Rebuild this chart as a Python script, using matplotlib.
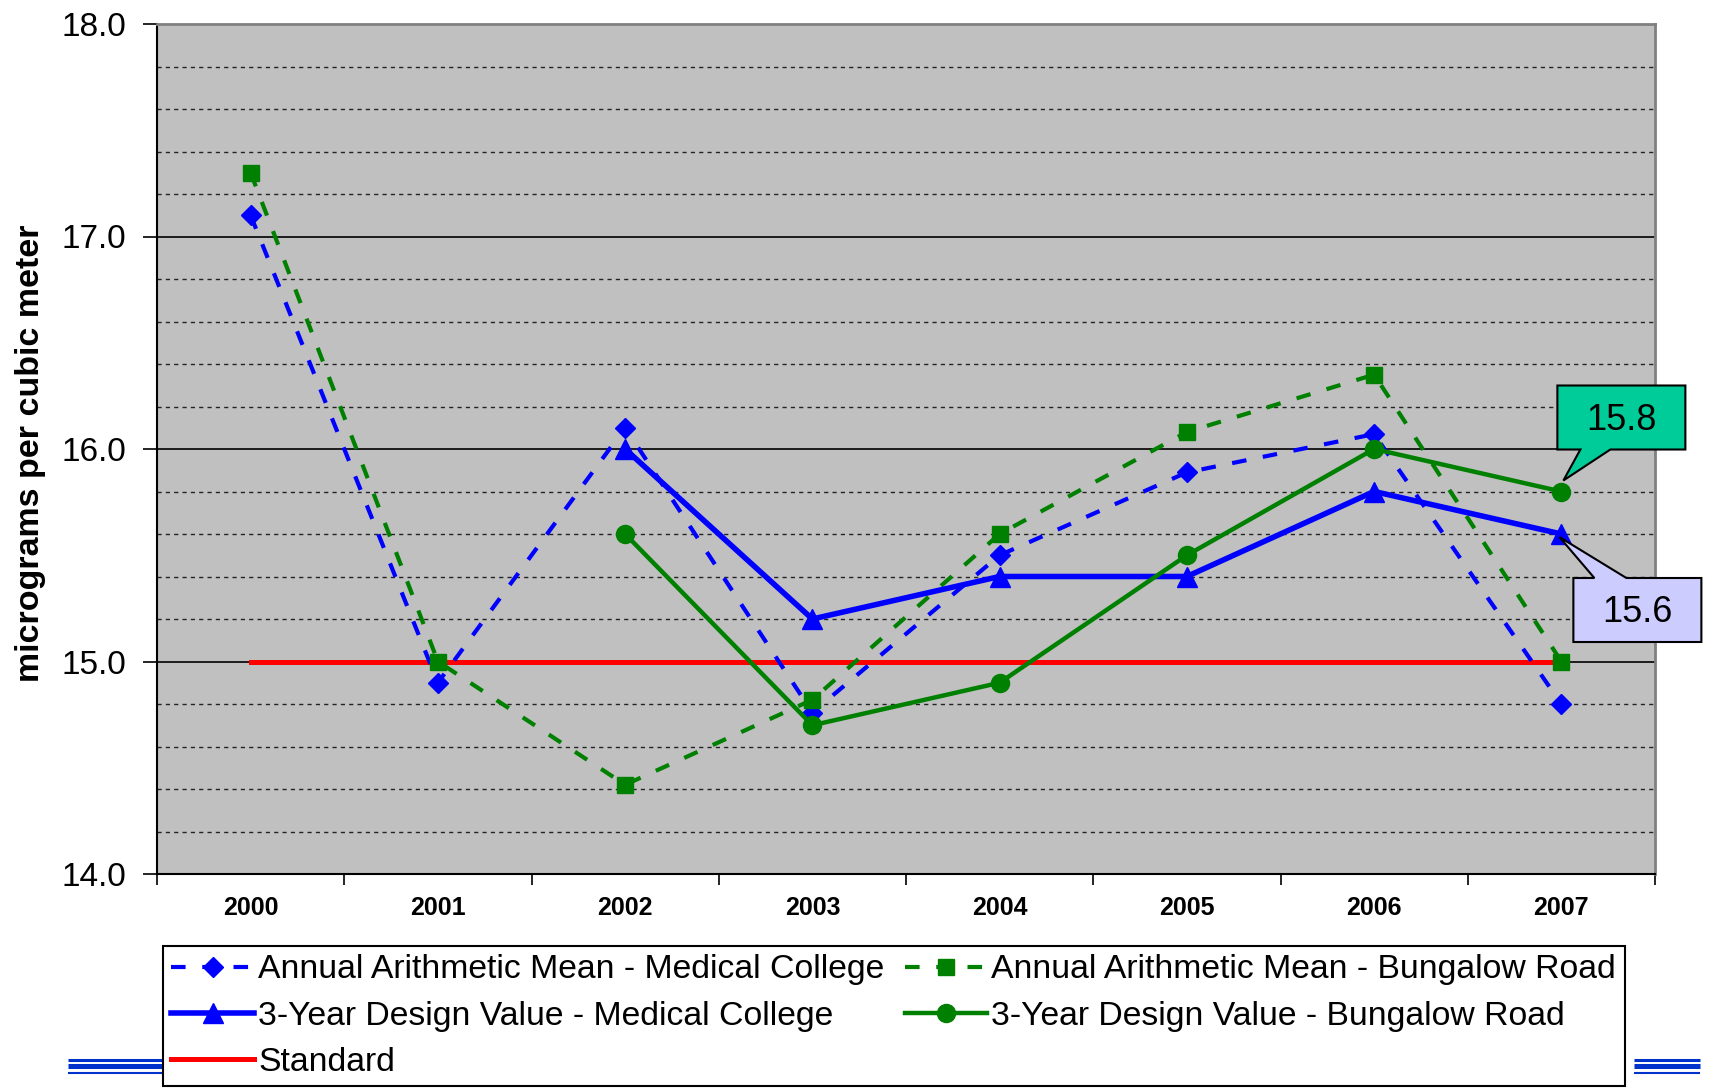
import numpy as np
import matplotlib
matplotlib.use('Agg')
import matplotlib.pyplot as plt
import matplotlib.transforms as mtransforms
from matplotlib.patches import Polygon
from matplotlib.lines import Line2D

plt.rcParams['font.family'] = ['Liberation Sans', 'DejaVu Sans']

# data
years = ['2000', '2001', '2002', '2003', '2004', '2005', '2006', '2007']
med_annual = [17.1, 14.9, 16.1, 14.76, 15.5, 15.89, 16.07, 14.8]
bung_annual = [17.3, 15.0, 14.42, 14.82, 15.6, 16.08, 16.35, 15.0]
med_dv = [np.nan, np.nan, 16.0, 15.2, 15.4, 15.4, 15.8, 15.6]
bung_dv = [np.nan, np.nan, 15.6, 14.7, 14.9, 15.5, 16.0, 15.8]
standard = [15.0] * 8

W, H = 1709, 1089
fig = plt.figure(figsize=(W / 100, H / 100), dpi=100)
ax = fig.add_axes([157 / W, 1 - 874 / H, (1655 - 157) / W, (874 - 24) / H])
ax.set_facecolor('#C0C0C0')

x = np.arange(len(years))

l_std, = ax.plot(x, standard, color='#FF0000', lw=3.6, zorder=3,
                 label='Standard')
l_med_ann, = ax.plot(x, med_annual, color='#0000FF', lw=3, ls=(0, (3.5, 4)),
                     marker='D', ms=10, zorder=4,
                     label='Annual Arithmetic Mean - Medical College')
l_bung_ann, = ax.plot(x, bung_annual, color='#008000', lw=3, ls=(0, (3.5, 4)),
                      marker='s', ms=11, zorder=5,
                      label='Annual Arithmetic Mean - Bungalow Road')
l_med_dv, = ax.plot(x, med_dv, color='#0000FF', lw=4, marker='^', ms=14,
                    zorder=6, label='3-Year Design Value - Medical College')
l_bung_dv, = ax.plot(x, bung_dv, color='#008000', lw=3.2, marker='o', ms=13,
                     zorder=7, label='3-Year Design Value - Bungalow Road')

ax.set_xlim(-0.5, 7.5)
ax.set_ylim(14, 18)
ax.set_yticks([14, 15, 16, 17, 18])
ax.set_yticklabels(['%.1f' % v for v in [14, 15, 16, 17, 18]])
ax.set_yticks(np.arange(14, 18.01, 0.2), minor=True)
ax.grid(axis='y', which='major', color='black', lw=1.2)
ax.grid(axis='y', which='minor', color='#222222', lw=1, ls=(0, (3, 3)))
ax.set_axisbelow(True)

ax.set_xticks(x)
ax.set_xticklabels(years, fontsize=18, fontweight='bold')
ax.set_xticks(np.arange(-0.5, 8, 1), minor=True)
ax.tick_params(axis='x', which='major', length=0, pad=16)
ax.tick_params(axis='x', which='minor', length=8, width=1.2)
ax.tick_params(axis='y', which='major', length=10, width=1.2, labelsize=24, pad=12)
ax.tick_params(axis='y', which='minor', length=0)

for s in ['left', 'bottom']:
    ax.spines[s].set_color('black')
    ax.spines[s].set_linewidth(1.5)
for s in ['top', 'right']:
    ax.spines[s].set_color('#808080')
    ax.spines[s].set_linewidth(2)

fig.text(31 / W, 1 - 453 / H, 'micrograms per cubic meter', rotation=90,
         ha='center', va='center', fontsize=24.5, fontweight='bold')


# callout boxes (offsets in pixels from the labelled point)
def callout(xi, yi, text, fc, verts, text_off):
    trans = mtransforms.IdentityTransform() + \
        mtransforms.ScaledTranslation(xi, yi, ax.transData)
    poly = Polygon(verts, closed=True, facecolor=fc, edgecolor='black',
                   lw=1.5, transform=trans, clip_on=False, zorder=10)
    ax.add_patch(poly)
    ax.annotate(text, xy=(xi, yi), xytext=text_off, textcoords='offset pixels',
                ha='center', va='center', fontsize=26, zorder=11,
                annotation_clip=False)


callout(7, bung_dv[-1], '%.1f' % bung_dv[-1], '#00CC99',
        [(-4, 42), (19, 42), (2, 11), (49, 42), (124, 42), (124, 106), (-4, 106)],
        (60, 71))
callout(7, med_dv[-1], '%.1f' % med_dv[-1], '#CCCCFF',
        [(12, -44), (33, -44), (-2, -3), (65, -44), (140, -44), (140, -108), (12, -108)],
        (76, -79))

# decorative blue bars beside the legend
for x0, x1 in [(68, 163), (1634, 1700)]:
    for yy, lw in [(1059.5, 2.2), (1065.5, 3.6), (1073, 1.5)]:
        fig.add_artist(Line2D([x0 / W, x1 / W], [1 - yy / H] * 2,
                              color='#0033CC', lw=lw, solid_capstyle='butt'))

handles = [l_med_ann, l_med_dv, l_std, l_bung_ann, l_bung_dv]
leg = fig.legend(handles=handles, labels=[h.get_label() for h in handles],
                 loc='upper left', bbox_to_anchor=(163 / W, 1 - 946 / H),
                 ncol=2, fontsize=24.3, frameon=True, fancybox=False,
                 edgecolor='black', framealpha=1, handlelength=2.45,
                 handletextpad=0.12, columnspacing=0.6, labelspacing=0.45,
                 borderpad=0.25, borderaxespad=0)
leg.get_frame().set_linewidth(1.5)

fig.savefig('out.png', dpi=100)
